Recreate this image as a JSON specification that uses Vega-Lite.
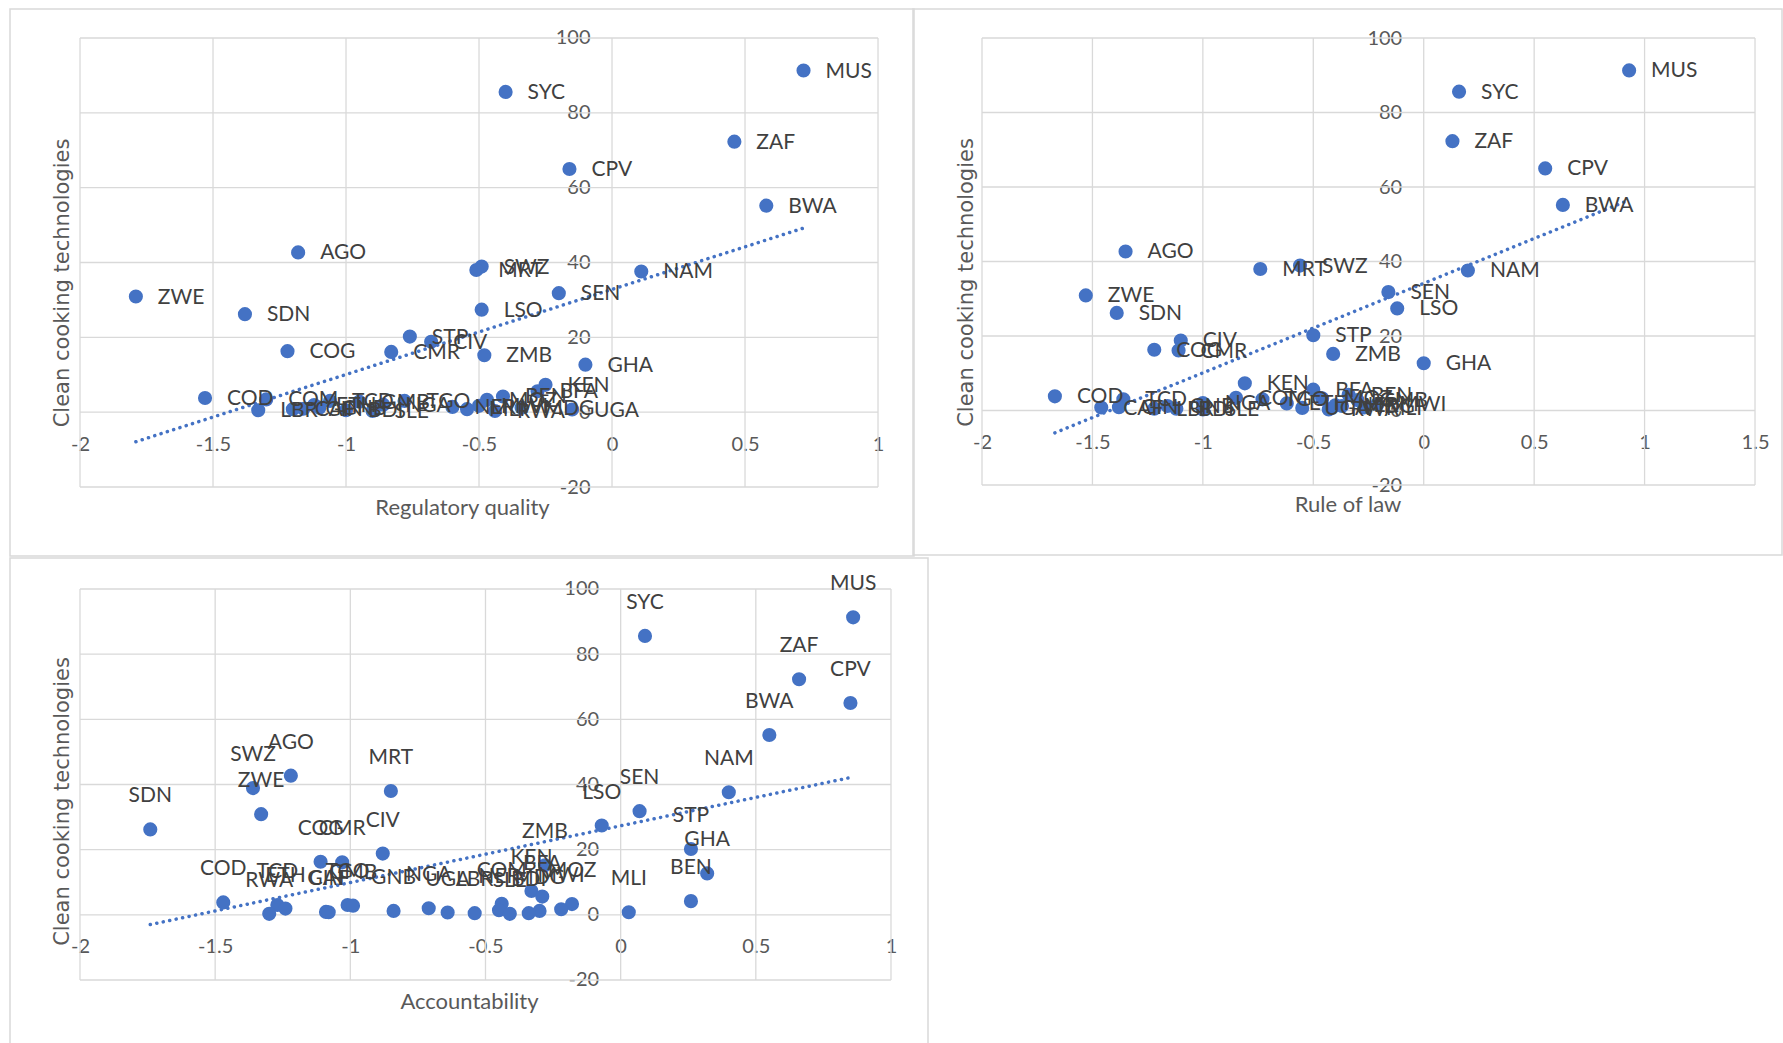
{
  "$schema": "https://vega.github.io/schema/vega-lite/v6.json",
  "padding": {"left": 9, "top": 8, "right": 0, "bottom": 0},
  "background": "white",
  "bounds": "flush",
  "align": "none",
  "columns": 2,
  "spacing": {"row": 2, "column": -15},
  "datasets": {
    "countries": [
      {"c": "MUS", "cc": 91.3, "rq": 0.72, "rol": 0.93, "acc": 0.86},
      {"c": "SYC", "cc": 85.6, "rq": -0.40, "rol": 0.16, "acc": 0.09},
      {"c": "ZAF", "cc": 72.3, "rq": 0.46, "rol": 0.13, "acc": 0.66},
      {"c": "CPV", "cc": 65.0, "rq": -0.16, "rol": 0.55, "acc": 0.85},
      {"c": "BWA", "cc": 55.2, "rq": 0.58, "rol": 0.63, "acc": 0.55},
      {"c": "AGO", "cc": 42.7, "rq": -1.18, "rol": -1.35, "acc": -1.22},
      {"c": "SWZ", "cc": 38.9, "rq": -0.49, "rol": -0.56, "acc": -1.36},
      {"c": "MRT", "cc": 38.0, "rq": -0.51, "rol": -0.74, "acc": -0.85},
      {"c": "NAM", "cc": 37.6, "rq": 0.11, "rol": 0.20, "acc": 0.40},
      {"c": "SEN", "cc": 31.8, "rq": -0.20, "rol": -0.16, "acc": 0.07},
      {"c": "ZWE", "cc": 30.9, "rq": -1.79, "rol": -1.53, "acc": -1.33},
      {"c": "LSO", "cc": 27.4, "rq": -0.49, "rol": -0.12, "acc": -0.07},
      {"c": "SDN", "cc": 26.2, "rq": -1.38, "rol": -1.39, "acc": -1.74},
      {"c": "STP", "cc": 20.2, "rq": -0.76, "rol": -0.50, "acc": 0.26},
      {"c": "CIV", "cc": 18.8, "rq": -0.68, "rol": -1.10, "acc": -0.88},
      {"c": "COG", "cc": 16.3, "rq": -1.22, "rol": -1.22, "acc": -1.11},
      {"c": "CMR", "cc": 16.1, "rq": -0.83, "rol": -1.11, "acc": -1.03},
      {"c": "ZMB", "cc": 15.2, "rq": -0.48, "rol": -0.41, "acc": -0.28},
      {"c": "GHA", "cc": 12.7, "rq": -0.10, "rol": 0.00, "acc": 0.32},
      {"c": "KEN", "cc": 7.3, "rq": -0.25, "rol": -0.81, "acc": -0.33},
      {"c": "BFA", "cc": 5.6, "rq": -0.28, "rol": -0.50, "acc": -0.29},
      {"c": "BEN", "cc": 4.2, "rq": -0.41, "rol": -0.34, "acc": 0.26},
      {"c": "COD", "cc": 3.8, "rq": -1.53, "rol": -1.67, "acc": -1.47},
      {"c": "COM", "cc": 3.4, "rq": -1.30, "rol": -0.85, "acc": -0.44},
      {"c": "MOZ", "cc": 3.3, "rq": -0.47, "rol": -0.46, "acc": -0.18},
      {"c": "TCD", "cc": 3.0, "rq": -1.06, "rol": -1.36, "acc": -1.27},
      {"c": "TGO", "cc": 3.0, "rq": -0.78, "rol": -0.73, "acc": -1.01},
      {"c": "GMB", "cc": 2.8, "rq": -0.95, "rol": -0.30, "acc": -0.99},
      {"c": "NGA", "cc": 2.0, "rq": -0.86, "rol": -1.00, "acc": -0.71},
      {"c": "ETH", "cc": 1.9, "rq": -1.12, "rol": -0.62, "acc": -1.24},
      {"c": "MWI", "cc": 1.7, "rq": -0.50, "rol": -0.21, "acc": -0.22},
      {"c": "NER", "cc": 1.4, "rq": -0.60, "rol": -0.40, "acc": -0.45},
      {"c": "GNB", "cc": 1.2, "rq": -1.10, "rol": -1.16, "acc": -0.84},
      {"c": "MDG", "cc": 1.2, "rq": -0.34, "rol": -0.37, "acc": -0.30},
      {"c": "GIN", "cc": 0.9, "rq": -1.16, "rol": -1.38, "acc": -1.09},
      {"c": "CAF", "cc": 0.8, "rq": -1.20, "rol": -1.46, "acc": -1.08},
      {"c": "MLI", "cc": 0.8, "rq": -0.545, "rol": -0.27, "acc": 0.03},
      {"c": "UGA", "cc": 0.7, "rq": -0.15, "rol": -0.55, "acc": -0.64},
      {"c": "LBR", "cc": 0.5, "rq": -1.33, "rol": -1.22, "acc": -0.54},
      {"c": "BDI", "cc": 0.5, "rq": -1.00, "rol": -1.12, "acc": -0.34},
      {"c": "RWA", "cc": 0.3, "rq": -0.44, "rol": -0.43, "acc": -1.30},
      {"c": "SLE", "cc": 0.3, "rq": -0.90, "rol": -1.00, "acc": -0.41}
    ]
  },
  "concat": [
    {
      "width": 904,
      "height": 547,
      "data": {"name": "countries"},
      "encoding": {
        "x": {"field": "rq", "type": "quantitative", "scale": {"domain": [-2.2632, 1.1353], "nice": false, "zero": false},
          "axis": {"orient": "bottom", "offset": -143.8, "values": [-2, -1.5, -1, -0.5, 0, 0.5, 1], "labelExpr": "datum.value + ''", "title": "Regulatory quality", "titlePadding": 43}},
        "y": {"field": "cc", "type": "quantitative", "scale": {"domain": [-38.44, 107.75], "nice": false, "zero": false},
          "axis": {"orient": "left", "offset": -602, "values": [-20, 0, 20, 40, 60, 80, 100], "labelExpr": "datum.value + ''", "title": "Clean cooking technologies", "titleX": -550}}
      },
      "layer": [
        {"data": {"values": [
            {"rq": -2, "cc": -20, "cc2": 100}, {"rq": -1.5, "cc": -20, "cc2": 100}, {"rq": -1, "cc": -20, "cc2": 100},
            {"rq": -0.5, "cc": -20, "cc2": 100}, {"rq": 0, "cc": -20, "cc2": 100}, {"rq": 0.5, "cc": -20, "cc2": 100},
            {"rq": 1, "cc": -20, "cc2": 100}]},
          "mark": {"type": "rule", "color": "#D9D9D9", "strokeWidth": 1.3},
          "encoding": {"y2": {"field": "cc2"}}},
        {"data": {"values": [
            {"cc": -20, "rq": -2, "rq2": 1}, {"cc": 0, "rq": -2, "rq2": 1}, {"cc": 20, "rq": -2, "rq2": 1},
            {"cc": 40, "rq": -2, "rq2": 1}, {"cc": 60, "rq": -2, "rq2": 1}, {"cc": 80, "rq": -2, "rq2": 1},
            {"cc": 100, "rq": -2, "rq2": 1}]},
          "mark": {"type": "rule", "color": "#D9D9D9", "strokeWidth": 1.3},
          "encoding": {"x2": {"field": "rq2"}}},
        {"data": {"values": [{"rq": -1.79, "cc": -7.9}, {"rq": 0.72, "cc": 49.2}]},
          "mark": {"type": "line", "color": "#4472C4", "strokeWidth": 3.5, "strokeDash": [0.1, 6.5], "strokeCap": "round"}, "encoding": {}},
        {"mark": {"type": "circle", "size": 200, "color": "#4472C4", "opacity": 1}},
        {"mark": {"type": "text", "align": "left", "baseline": "middle", "dx": 22, "dy": 1, "font": "Lato", "fontSize": 21, "color": "#404040"},
          "encoding": {"text": {"field": "c"}}},
        {"data": {"values": [{}]}, "mark": {"type": "text", "align": "center", "baseline": "middle", "font": "Lato", "fontSize": 21, "lineHeight": 30, "color": "#595959"},
          "encoding": {"x": {"datum": -1.489, "type": "quantitative"}, "y": {"datum": 91.3, "type": "quantitative"}, "text": {"value": ["y = 22.777x + 32.841", "R² = 0.2605"]}}}
      ]
    },
    {
      "width": 869,
      "height": 546,
      "data": {"name": "countries"},
      "encoding": {
        "x": {"field": "rol", "type": "quantitative", "scale": {"domain": [-2.3124, 1.6222], "nice": false, "zero": false},
          "axis": {"orient": "bottom", "offset": -144.5, "values": [-2, -1.5, -1, -0.5, 0, 0.5, 1, 1.5], "labelExpr": "datum.value + ''", "title": "Rule of law", "titlePadding": 42}},
        "y": {"field": "cc", "type": "quantitative", "scale": {"domain": [-38.79, 107.79], "nice": false, "zero": false},
          "axis": {"orient": "left", "offset": -510.7, "values": [-20, 0, 20, 40, 60, 80, 100], "labelExpr": "datum.value + ''", "title": "Clean cooking technologies", "titleX": -456.7}}
      },
      "layer": [
        {"data": {"values": [
            {"rol": -2, "cc": -20, "cc2": 100}, {"rol": -1.5, "cc": -20, "cc2": 100}, {"rol": -1, "cc": -20, "cc2": 100},
            {"rol": -0.5, "cc": -20, "cc2": 100}, {"rol": 0, "cc": -20, "cc2": 100}, {"rol": 0.5, "cc": -20, "cc2": 100},
            {"rol": 1, "cc": -20, "cc2": 100}, {"rol": 1.5, "cc": -20, "cc2": 100}]},
          "mark": {"type": "rule", "color": "#D9D9D9", "strokeWidth": 1.3},
          "encoding": {"y2": {"field": "cc2"}}},
        {"data": {"values": [
            {"cc": -20, "rol": -2, "rol2": 1.5}, {"cc": 0, "rol": -2, "rol2": 1.5}, {"cc": 20, "rol": -2, "rol2": 1.5},
            {"cc": 40, "rol": -2, "rol2": 1.5}, {"cc": 60, "rol": -2, "rol2": 1.5}, {"cc": 80, "rol": -2, "rol2": 1.5},
            {"cc": 100, "rol": -2, "rol2": 1.5}]},
          "mark": {"type": "rule", "color": "#D9D9D9", "strokeWidth": 1.3},
          "encoding": {"x2": {"field": "rol2"}}},
        {"data": {"values": [{"rol": -1.67, "cc": -6.0}, {"rol": 0.93, "cc": 56.5}]},
          "mark": {"type": "line", "color": "#4472C4", "strokeWidth": 3.5, "strokeDash": [0.1, 6.5], "strokeCap": "round"}, "encoding": {}},
        {"mark": {"type": "circle", "size": 200, "color": "#4472C4", "opacity": 1}},
        {"mark": {"type": "text", "align": "left", "baseline": "middle", "dx": 22, "dy": 1, "font": "Lato", "fontSize": 21, "color": "#404040"},
          "encoding": {"text": {"field": "c"}}},
        {"data": {"values": [{}]}, "mark": {"type": "text", "align": "center", "baseline": "middle", "font": "Lato", "fontSize": 21, "lineHeight": 30, "color": "#595959"},
          "encoding": {"x": {"datum": -1.292, "type": "quantitative"}, "y": {"datum": 90.42, "type": "quantitative"}, "text": {"value": ["y = 24.03x + 34.214", "R² = 0.375"]}}}
      ]
    },
    {
      "width": 918,
      "height": 486,
      "data": {"name": "countries"},
      "encoding": {
        "x": {"field": "acc", "type": "quantitative", "scale": {"domain": [-2.2589, 1.1369], "nice": false, "zero": false},
          "axis": {"orient": "bottom", "offset": -129.2, "values": [-2, -1.5, -1, -0.5, 0, 0.5, 1], "labelExpr": "datum.value + ''", "title": "Accountability", "titlePadding": 35}},
        "y": {"field": "cc", "type": "quantitative", "scale": {"domain": [-39.65, 109.51], "nice": false, "zero": false},
          "axis": {"orient": "left", "offset": -610.6, "values": [-20, 0, 20, 40, 60, 80, 100], "labelExpr": "datum.value + ''", "title": "Clean cooking technologies", "titleX": -558.6}}
      },
      "layer": [
        {"data": {"values": [
            {"acc": -2, "cc": -20, "cc2": 100}, {"acc": -1.5, "cc": -20, "cc2": 100}, {"acc": -1, "cc": -20, "cc2": 100},
            {"acc": -0.5, "cc": -20, "cc2": 100}, {"acc": 0, "cc": -20, "cc2": 100}, {"acc": 0.5, "cc": -20, "cc2": 100},
            {"acc": 1, "cc": -20, "cc2": 100}]},
          "mark": {"type": "rule", "color": "#D9D9D9", "strokeWidth": 1.3},
          "encoding": {"y2": {"field": "cc2"}}},
        {"data": {"values": [
            {"cc": -20, "acc": -2, "acc2": 1}, {"cc": 0, "acc": -2, "acc2": 1}, {"cc": 20, "acc": -2, "acc2": 1},
            {"cc": 40, "acc": -2, "acc2": 1}, {"cc": 60, "acc": -2, "acc2": 1}, {"cc": 80, "acc": -2, "acc2": 1},
            {"cc": 100, "acc": -2, "acc2": 1}]},
          "mark": {"type": "rule", "color": "#D9D9D9", "strokeWidth": 1.3},
          "encoding": {"x2": {"field": "acc2"}}},
        {"data": {"values": [{"acc": -1.74, "cc": -3.0}, {"acc": 0.86, "cc": 42.3}]},
          "mark": {"type": "line", "color": "#4472C4", "strokeWidth": 3.5, "strokeDash": [0.1, 6.5], "strokeCap": "round"}, "encoding": {}},
        {"mark": {"type": "circle", "size": 200, "color": "#4472C4", "opacity": 1}},
        {"mark": {"type": "text", "align": "center", "baseline": "middle", "dy": -33, "font": "Lato", "fontSize": 21, "color": "#404040"},
          "encoding": {"text": {"field": "c"}}},
        {"data": {"values": [{}]}, "mark": {"type": "text", "align": "center", "baseline": "middle", "font": "Lato", "fontSize": 21, "lineHeight": 28, "color": "#595959"},
          "encoding": {"x": {"datum": -1.535, "type": "quantitative"}, "y": {"datum": 90.73, "type": "quantitative"}, "text": {"value": ["y = 17.457x + 27.301", "R² = 0.2357"]}}}
      ]
    }
  ],
  "config": {
    "view": {"stroke": "#D9D9D9", "strokeWidth": 1.5},
    "font": "Lato",
    "axis": {
      "grid": false, "domain": false, "ticks": false,
      "labelFont": "Lato", "labelFontSize": 20, "labelColor": "#595959", "labelPadding": 22,
      "labelFlush": false, "labelOverlap": false,
      "titleFont": "Lato", "titleFontSize": 22, "titleFontWeight": "normal", "titleColor": "#595959"
    },
    "axisY": {"titleFont": "DejaVu Sans", "titleFontSize": 21, "titleBaseline": "middle"}
  }
}
